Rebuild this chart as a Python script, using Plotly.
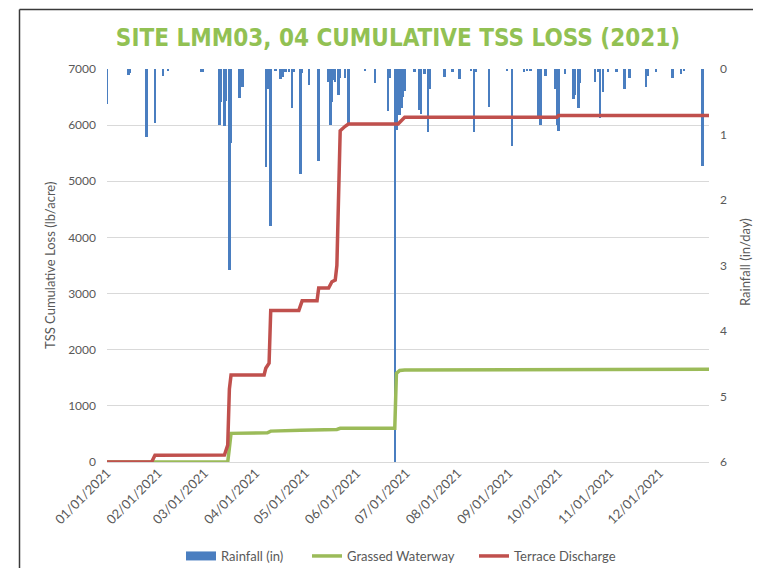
import plotly.graph_objects as go

# ---------------- data ----------------
rain_dates = [
    "2021-01-01", "2021-01-14", "2021-01-15", "2021-01-25", "2021-01-30",
    "2021-02-04", "2021-02-07", "2021-02-27", "2021-02-28",
    "2021-03-10", "2021-03-11", "2021-03-13", "2021-03-14", "2021-03-16",
    "2021-03-17", "2021-03-22", "2021-03-24",
    "2021-04-07", "2021-04-08", "2021-04-10", "2021-04-13", "2021-04-16",
    "2021-04-17", "2021-04-19", "2021-04-21", "2021-04-23", "2021-04-24",
    "2021-04-28", "2021-04-29",
    "2021-05-03", "2021-05-09", "2021-05-15", "2021-05-16", "2021-05-17",
    "2021-05-18", "2021-05-19", "2021-05-21", "2021-05-22", "2021-05-25",
    "2021-05-27",
    "2021-06-06", "2021-06-12", "2021-06-20", "2021-06-21", "2021-06-24",
    "2021-06-25", "2021-06-27", "2021-06-28", "2021-06-29", "2021-06-30",
    "2021-07-06", "2021-07-09", "2021-07-10", "2021-07-12", "2021-07-14",
    "2021-07-15", "2021-07-24", "2021-07-29",
    "2021-08-02", "2021-08-09", "2021-08-11", "2021-08-12", "2021-08-20",
    "2021-08-31",
    "2021-09-03", "2021-09-10", "2021-09-12", "2021-09-14", "2021-09-19",
    "2021-09-20", "2021-09-23", "2021-09-29", "2021-09-30",
    "2021-10-01", "2021-10-05", "2021-10-10", "2021-10-11", "2021-10-13",
    "2021-10-14", "2021-10-23", "2021-10-25", "2021-10-26", "2021-10-28",
    "2021-10-31",
    "2021-11-05", "2021-11-10", "2021-11-13", "2021-11-23", "2021-11-24",
    "2021-11-29",
    "2021-12-09", "2021-12-14", "2021-12-16", "2021-12-27",
]
rain_in = [
    0.53, 0.09, 0.06, 1.04, 0.82,
    0.11, 0.03, 0.05, 0.05,
    0.86, 0.50, 0.87, 0.49, 3.07,
    1.13, 0.44, 0.27,
    1.49, 0.30, 2.39, 0.03, 0.15,
    0.12, 0.04, 0.05, 0.60, 0.04,
    1.60, 0.06,
    0.24, 1.40, 0.20, 0.85, 0.50,
    0.17, 0.20, 0.39, 0.14, 0.13,
    0.83,
    0.02, 0.22, 0.64, 0.13, 6.00,
    0.93, 0.70, 0.60, 0.42, 0.33,
    0.05, 0.63, 0.68, 0.07, 0.96,
    0.30, 0.12, 0.05,
    0.15, 0.03, 0.96, 0.04, 0.58,
    0.02,
    1.17, 0.04, 0.03, 0.03, 0.75,
    0.86, 0.10, 0.30, 0.86,
    0.95, 0.07, 0.46, 0.40, 0.60,
    0.22, 0.20, 0.05, 0.75, 0.35,
    0.04,
    0.04, 0.31, 0.14, 0.27, 0.10,
    0.04,
    0.14, 0.08, 0.03, 1.48,
]

grassed_dates = [
    "2021-01-01", "2021-03-15", "2021-03-16", "2021-03-17", "2021-04-08",
    "2021-04-10", "2021-04-28", "2021-05-20", "2021-05-22", "2021-06-24",
    "2021-06-25", "2021-06-27", "2021-06-30", "2021-09-30", "2021-10-01",
    "2021-12-31",
]
grassed_tss = [
    0, 0, 250, 510, 520,
    550, 565, 580, 600, 600,
    1580, 1630, 1640, 1640, 1650,
    1650,
]

terrace_dates = [
    "2021-01-01", "2021-01-28", "2021-01-30", "2021-03-13", "2021-03-15",
    "2021-03-16", "2021-03-17", "2021-04-06", "2021-04-07", "2021-04-09",
    "2021-04-10", "2021-04-27", "2021-04-29", "2021-05-08", "2021-05-09",
    "2021-05-15", "2021-05-17", "2021-05-19", "2021-05-20", "2021-05-21",
    "2021-05-22", "2021-05-25", "2021-05-27", "2021-06-26", "2021-06-28",
    "2021-06-30", "2021-09-30", "2021-10-01", "2021-12-31",
]
terrace_tss = [
    0, 0, 120, 125, 300,
    1300, 1550, 1550, 1670, 1760,
    2700, 2700, 2870, 2870, 3100,
    3100, 3210, 3240, 3500, 5000,
    5900, 5980, 6020, 6020, 6080,
    6140, 6140, 6170, 6170,
]

month_ticks = [
    "2021-01-01", "2021-02-01", "2021-03-01", "2021-04-01", "2021-05-01",
    "2021-06-01", "2021-07-01", "2021-08-01", "2021-09-01", "2021-10-01",
    "2021-11-01", "2021-12-01",
]

# ---------------- styles ----------------
FONT = "Lato"
GREY = "#595959"
BLUE = "#4A7EC0"
GREEN = "#9BBB59"
RED = "#C0504D"
DAY_MS = 86400000
bar_widths = [0.8 * DAY_MS if v >= 6 else 1.5 * DAY_MS for v in rain_in]

fig = go.Figure()

fig.add_trace(go.Bar(
    x=rain_dates, y=rain_in, width=bar_widths, name="Rainfall (in)",
    marker=dict(color=BLUE, line=dict(width=0)), yaxis="y",
    showlegend=False,
))
# legend key for the rainfall bars (wide rectangle like the original)
fig.add_trace(go.Scatter(
    x=[None], y=[None], mode="lines", name="Rainfall (in)",
    line=dict(color=BLUE, width=9), yaxis="y", legend="legend",
))
fig.add_trace(go.Scatter(
    x=grassed_dates, y=grassed_tss, mode="lines", name="Grassed Waterway",
    line=dict(color=GREEN, width=3.5), yaxis="y2", legend="legend2",
))
fig.add_trace(go.Scatter(
    x=terrace_dates, y=terrace_tss, mode="lines", name="Terrace Discharge",
    line=dict(color=RED, width=3.5), yaxis="y2", legend="legend3",
))

# page has an 8px body margin: work in page pixels, convert to figure pixels
OFF = 8
W, H = 745, 560
L = 107 - OFF
T = 69 - OFF
R = W - (709 - OFF)
B = H - (462 - OFF)
pw, ph = W - L - R, H - T - B


def px(x):
    return (x - OFF - L) / pw


def py(y):
    return (H - B - (y - OFF)) / ph


def legend_at(xpage):
    return dict(
        orientation="h", x=px(xpage), xanchor="left",
        y=py(556), yanchor="middle",
        font=dict(size=13, color=GREY), itemwidth=30,
        bgcolor="rgba(0,0,0,0)",
    )


fig.update_layout(
    width=W, height=H,
    margin=dict(l=L, r=R, t=T, b=B, autoexpand=False),
    paper_bgcolor="white", plot_bgcolor="white",
    font=dict(family=FONT, size=12, color=GREY),
    bargap=0,
    modebar=dict(bgcolor="rgba(0,0,0,0)", color="rgba(0,0,0,0)",
                 activecolor="rgba(0,0,0,0)"),
    title=dict(
        text="SITE LMM03, 04 CUMULATIVE TSS LOSS (2021)",
        font=dict(family="DejaVu Sans Condensed", size=24, color="#92C153", weight="bold"),
        x=px(398), xref="paper", xanchor="center",
        y=1 - (38 - OFF) / H, yref="container", yanchor="middle",
    ),
    xaxis=dict(
        type="date",
        range=["2021-01-01", "2021-12-31"],
        tickmode="array", tickvals=month_ticks,
        tickformat="%m/%d/%Y", tickangle=-45,
        showgrid=False, zeroline=False, showline=False,
        ticks="", tickfont=dict(size=13, color=GREY),
    ),
    yaxis=dict(
        side="right", range=[6, 0], dtick=1,
        showgrid=False, zeroline=False, showline=False,
        ticks="", ticklabelstandoff=10,
        tickfont=dict(size=12, color=GREY),
    ),
    yaxis2=dict(
        side="left", overlaying="y", range=[0, 7000], dtick=1000,
        showgrid=True, gridcolor="#D9D9D9", gridwidth=1,
        zeroline=True, zerolinecolor="#D9D9D9", zerolinewidth=1,
        showline=False, ticks="", ticklabelstandoff=10,
        tickfont=dict(size=12, color=GREY),
    ),
    legend=legend_at(181),
    legend2=legend_at(307),
    legend3=legend_at(474),
    showlegend=True,
    annotations=[
        dict(text="TSS Cumulative Loss (lb/acre)", textangle=-90,
             x=px(50), y=py(266), xref="paper", yref="paper",
             xanchor="center", yanchor="middle",
             showarrow=False, font=dict(size=13, color=GREY)),
        dict(text="Rainfall (in/day)", textangle=-90,
             x=px(745), y=py(262), xref="paper", yref="paper",
             xanchor="center", yanchor="middle",
             showarrow=False, font=dict(size=13, color=GREY)),
    ],
    shapes=[
        dict(type="line", xref="paper", yref="paper",
             x0=px(19.5), x1=px(19.5), y0=py(576), y1=py(9.5),
             line=dict(color="#3A3A3A", width=1.5)),
        dict(type="line", xref="paper", yref="paper",
             x0=px(19.5), x1=px(761), y0=py(9.5), y1=py(9.5),
             line=dict(color="#3A3A3A", width=1.5)),
    ],
)

fig.write_html("out.html")
